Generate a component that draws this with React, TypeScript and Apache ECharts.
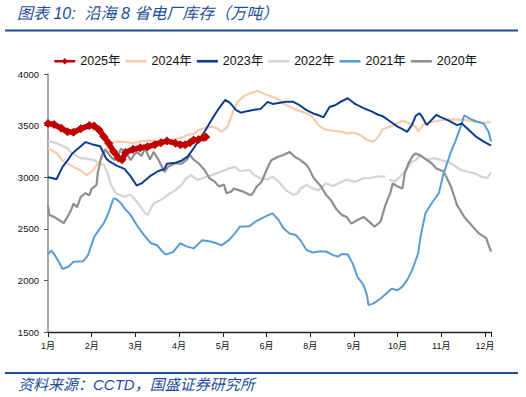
import React, { useEffect, useRef } from "react";
import * as echarts from "echarts";

const monthLabels = ["1月", "2月", "3月", "4月", "5月", "6月", "8月", "9月", "10月", "11月", "12月"];
const seriesNames = ["2025年", "2024年", "2023年", "2022年", "2021年", "2020年"];

// [day of year, 万吨]
const d2025 = [
  [0, 3520], [5, 3510], [11, 3475], [16, 3440], [21, 3435], [27, 3470], [34, 3500], [38, 3495],
  [42, 3460], [46, 3395], [50, 3330], [54, 3250], [58, 3185], [61, 3170], [64, 3240], [70, 3270],
  [76, 3285], [82, 3295], [88, 3315], [93, 3335], [98, 3350], [105, 3330], [109, 3315], [113, 3315],
  [117, 3335], [120, 3360], [124, 3365], [128, 3385], [130, 3390],
];

const d2024 = [
  [0, 3280], [7, 3235], [12, 3160], [21, 3100], [26, 3070], [32, 3020], [37, 3065], [43, 3160],
  [48, 3260], [51, 3330], [57, 3345], [64, 3340], [70, 3330], [77, 3350], [84, 3355], [90, 3345],
  [96, 3345], [102, 3365], [109, 3380], [115, 3410], [120, 3420], [124, 3455], [129, 3475], [135, 3490],
  [139, 3475], [143, 3440], [148, 3490], [152, 3620], [156, 3730], [162, 3790], [167, 3815], [173, 3835],
  [180, 3800], [188, 3765], [196, 3700], [204, 3655], [213, 3620], [218, 3585], [223, 3500], [229, 3460],
  [235, 3450], [242, 3440], [246, 3425], [251, 3435], [257, 3410], [263, 3360], [268, 3345], [272, 3390],
  [276, 3470], [282, 3490], [288, 3520], [292, 3550], [298, 3520], [303, 3490], [305, 3445], [310, 3520],
  [318, 3540], [326, 3555], [334, 3560], [343, 3555], [351, 3540], [359, 3525], [365, 3535],
];

const d2023 = [
  [0, 3000], [4, 2990], [7, 2980], [12, 3100], [16, 3160], [20, 3230], [26, 3290], [31, 3340],
  [36, 3320], [43, 3300], [48, 3180], [51, 3150], [57, 3110], [63, 3080], [68, 3010], [73, 2920],
  [77, 2940], [84, 3010], [91, 3060], [96, 3080], [98, 3130], [105, 3140], [110, 3160], [115, 3200],
  [120, 3280], [125, 3370], [130, 3460], [136, 3580], [141, 3670], [146, 3750], [150, 3720], [155, 3650],
  [159, 3625], [164, 3640], [171, 3655], [175, 3660], [181, 3730], [185, 3710], [190, 3720], [196, 3730],
  [202, 3730], [207, 3700], [213, 3650], [218, 3620], [223, 3600], [227, 3580], [232, 3680], [237, 3700],
  [241, 3730], [247, 3765], [253, 3710], [260, 3670], [267, 3635], [272, 3605], [276, 3590], [282, 3540],
  [288, 3490], [292, 3465], [296, 3440], [300, 3510], [303, 3595], [306, 3620], [308, 3590], [312, 3505],
  [320, 3605], [324, 3580], [329, 3555], [337, 3505], [341, 3520], [347, 3455], [353, 3390], [359, 3345],
  [365, 3305],
];

const d2022 = [
  [0, 3350], [7, 3330], [16, 3280], [20, 3230], [27, 3185], [32, 3180], [38, 3165], [42, 3135],
  [46, 3120], [49, 3040], [52, 2925], [56, 2845], [59, 2830], [63, 2810], [68, 2830], [74, 2750],
  [80, 2650], [82, 2635], [87, 2745], [93, 2780], [99, 2830], [105, 2875], [110, 2925], [114, 2990],
  [118, 3020], [123, 2975], [127, 2990], [135, 3020], [143, 3055], [149, 3085], [154, 3100], [158, 3060],
  [166, 3070], [170, 3020], [175, 2990], [181, 2975], [185, 3005], [190, 2960], [196, 2875], [202, 2830],
  [206, 2845], [208, 2890], [213, 2925], [218, 2890], [223, 2875], [229, 2940], [235, 2915], [242, 2955],
  [246, 2975], [253, 2955], [260, 2990], [265, 2990], [271, 3005], [278, 3005], [279, null], [281, 2975],
  [286, 2960], [290, 3005], [296, 3085], [300, 3150], [303, 3165], [307, 3215], [312, 3165], [318, 3185],
  [324, 3165], [329, 3150], [334, 3120], [340, 3070], [345, 3055], [351, 3040], [357, 3005], [362, 2990],
  [365, 3050],
];

const d2021 = [
  [0, 2255], [3, 2290], [8, 2200], [12, 2110], [17, 2135], [21, 2180], [29, 2185], [33, 2245],
  [38, 2420], [42, 2490], [46, 2555], [50, 2660], [54, 2795], [56, 2790], [60, 2750], [63, 2700],
  [68, 2635], [74, 2520], [80, 2425], [85, 2360], [90, 2340], [93, 2295], [97, 2250], [103, 2275],
  [109, 2360], [114, 2330], [120, 2310], [127, 2390], [135, 2375], [143, 2340], [149, 2390], [154, 2455],
  [158, 2520], [166, 2525], [171, 2570], [176, 2600], [181, 2630], [185, 2650], [190, 2585], [194, 2505],
  [199, 2455], [204, 2440], [208, 2390], [213, 2295], [218, 2270], [223, 2280], [229, 2280], [235, 2245],
  [239, 2230], [242, 2255], [247, 2250], [251, 2165], [255, 2035], [260, 1955], [263, 1845], [264, 1760],
  [268, 1775], [274, 1825], [279, 1875], [283, 1920], [288, 1905], [292, 1940], [296, 2005], [300, 2100],
  [303, 2195], [305, 2265], [307, 2425], [311, 2650], [316, 2745], [322, 2845], [326, 3040], [332, 3245],
  [336, 3360], [340, 3490], [343, 3600], [347, 3570], [353, 3540], [359, 3520], [363, 3440], [365, 3345],
];

const d2020 = [
  [0, 2730], [1, 2635], [5, 2615], [9, 2585], [13, 2555], [16, 2615], [19, 2680], [21, 2745],
  [24, 2710], [27, 2810], [31, 2845], [34, 2825], [36, 2890], [40, 2925], [41, 3040], [44, 3200],
  [47, 3270], [49, 3240], [52, 3195], [55, 3165], [58, 3215], [60, 3275], [64, 3250], [68, 3165],
  [73, 3250], [77, 3205], [80, 3280], [84, 3170], [87, 3245], [91, 3170], [96, 3050], [99, 3100],
  [105, 3135], [110, 3130], [114, 3165], [117, 3215], [120, 3170], [124, 3135], [129, 3070], [133, 2990],
  [137, 2960], [141, 2910], [145, 2930], [147, 2845], [151, 2860], [153, 2890], [157, 2875], [161, 2860],
  [166, 2830], [168, 2830], [172, 2910], [176, 2955], [180, 3070], [184, 3165], [190, 3200], [194, 3215],
  [199, 3245], [203, 3200], [208, 3165], [213, 3120], [215, 3085], [219, 2990], [225, 2910], [229, 2830],
  [233, 2780], [237, 2700], [242, 2635], [246, 2615], [250, 2550], [255, 2585], [260, 2615], [265, 2565],
  [269, 2520], [274, 2570], [278, 2730], [282, 2845], [284, 2940], [288, 2910], [292, 2890], [294, 3040],
  [297, 3135], [301, 3215], [303, 3230], [306, 3215], [310, 3185], [316, 3135], [320, 3085], [326, 3055],
  [332, 2910], [337, 2730], [343, 2615], [349, 2535], [355, 2455], [361, 2410], [365, 2280],
];

const seriesData = [d2025, d2024, d2023, d2022, d2021, d2020];
const colors = ["#C00000", "#F8CBAD", "#0B3D91", "#D4D4D4", "#5B9BD5", "#8F8F8F"];
const widths = [5.5, 2.2, 2, 2.2, 2, 2.2];
const zs = [10, 3, 5, 2, 4, 3];

const FONT = "'Liberation Sans', 'Noto Sans CJK SC', sans-serif";
const BLUE = "#1F4E9A";
const LINE_ICON = "path://M0,0H24V3H0Z";

export default function App() {
  const ref = useRef<HTMLDivElement>(null);
  useEffect(() => {
    if (!ref.current) return;
    const chart = echarts.init(ref.current, null, { renderer: "svg" });
    const series = seriesNames.map((name, i) => ({
      name,
      type: "line",
      data: seriesData[i],
      z: zs[i],
      symbol: i === 0 ? "diamond" : "none",
      symbolSize: i === 0 ? 9 : 0,
      showSymbol: i === 0,
      connectNulls: false,
      lineStyle: { color: colors[i], width: widths[i] },
      itemStyle: { color: colors[i] },
    }));
    chart.setOption({
      animation: false,
      textStyle: { fontFamily: FONT },
      color: colors,
      grid: { left: 48, right: 35, top: 74, bottom: 65 },
      legend: {
        left: 48,
        top: 50,
        itemWidth: 21,
        itemHeight: 8,
        itemGap: 5,
        symbolKeepAspect: true,
        textStyle: { fontSize: 12.5, color: "#111", fontFamily: FONT },
        data: seriesNames.map((n, i) =>
          i === 0
            ? { name: n, lineStyle: { width: 2.5 } }
            : { name: n, icon: LINE_ICON }
        ),
      },
      xAxis: {
        type: "value",
        min: 0,
        max: 365,
        interval: 36,
        axisLine: { lineStyle: { color: "#222", width: 1.3 } },
        axisTick: { show: true, length: 5, lineStyle: { color: "#222" } },
        splitLine: { show: false },
        axisLabel: {
          fontSize: 9,
          color: "#111",
          margin: 9,
          showMaxLabel: true,
          formatter: (v: number) => (v % 36 === 0 ? monthLabels[v / 36] ?? "" : ""),
        },
      },
      yAxis: {
        type: "value",
        min: 1500,
        max: 4000,
        interval: 500,
        axisLine: { show: true, lineStyle: { color: "#8A8A8A", width: 1.5 } },
        axisTick: { show: true, length: 4, lineStyle: { color: "#555" } },
        splitLine: { show: false },
        axisLabel: { fontSize: 9.5, color: "#111", margin: 9, formatter: (v: number) => String(v) },
      },
      graphic: [
        {
          type: "text",
          left: 17,
          top: 5,
          style: {
            text: "图表 10:  沿海 8 省电厂库存（万吨）",
            fontSize: 16,
            fontStyle: "italic",
            fontFamily: FONT,
            fill: BLUE,
          },
        },
        { type: "rect", shape: { x: 5, y: 29.5, width: 513, height: 2 }, style: { fill: BLUE } },
        { type: "rect", shape: { x: 5, y: 372, width: 513, height: 2 }, style: { fill: BLUE } },
        {
          type: "text",
          left: 18,
          top: 377,
          style: {
            text: "资料来源：CCTD，国盛证券研究所",
            fontSize: 15,
            fontStyle: "italic",
            fontFamily: FONT,
            fill: BLUE,
          },
        },
      ],
      series,
    });
    return () => chart.dispose();
  }, []);
  return (
    <div
      ref={ref}
      style={{ position: "absolute", left: 0, top: 0, width: 526, height: 397, background: "#fff" }}
    />
  );
}
